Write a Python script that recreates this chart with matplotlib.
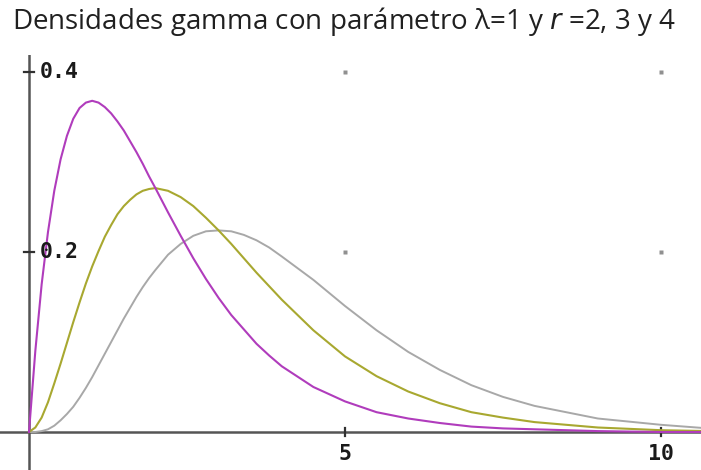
import matplotlib

matplotlib.use("Agg")
import matplotlib.pyplot as plt

# values
x_vals = [0, 0.1, 0.2, 0.3, 0.4, 0.5, 0.6, 0.7, 0.8, 0.9, 1.0,
          1.1, 1.2, 1.3, 1.4, 1.5, 1.6, 1.7, 1.8, 1.9, 2.0,
          2.2, 2.4, 2.6, 2.8, 3.0, 3.2, 3.4, 3.6, 3.8, 4.0,
          4.5, 5.0, 5.5, 6.0, 6.5, 7.0, 7.5, 8.0, 9, 10, 10.75]
dens_r2 = [0, 0.090, 0.164, 0.222, 0.268, 0.303, 0.329, 0.348, 0.360, 0.366, 0.368,
           0.366, 0.361, 0.354, 0.345, 0.335, 0.323, 0.311, 0.298, 0.284, 0.271,
           0.244, 0.218, 0.193, 0.170, 0.149, 0.130, 0.114, 0.098, 0.085, 0.073,
           0.050, 0.034, 0.022, 0.015, 0.010, 0.006, 0.004, 0.003, 0.001, 0.000, 0.000]
dens_r3 = [0, 0.005, 0.016, 0.033, 0.054, 0.076, 0.099, 0.122, 0.144, 0.165, 0.184,
           0.201, 0.217, 0.230, 0.242, 0.251, 0.258, 0.264, 0.268, 0.270, 0.271,
           0.268, 0.261, 0.251, 0.238, 0.224, 0.209, 0.193, 0.177, 0.162, 0.147,
           0.113, 0.084, 0.062, 0.045, 0.032, 0.022, 0.016, 0.011, 0.005, 0.002, 0.001]
dens_r4 = [0, 0.000, 0.001, 0.003, 0.007, 0.013, 0.020, 0.028, 0.038, 0.049, 0.061,
           0.074, 0.087, 0.100, 0.113, 0.126, 0.138, 0.150, 0.161, 0.171, 0.180,
           0.197, 0.209, 0.218, 0.223, 0.224, 0.223, 0.219, 0.213, 0.205, 0.195,
           0.169, 0.140, 0.113, 0.089, 0.069, 0.052, 0.039, 0.029, 0.015, 0.008, 0.004]

x_ticks = [5, 10]
y_ticks = [0.2, 0.4]
title = "Densidades gamma con parámetro λ=1 y $r$ =2, 3 y 4"

W, H = 701, 470
fig = plt.figure(figsize=(W / 100, H / 100), dpi=100)
fig.patch.set_facecolor("white")

# axes area: from pixel row 55 down to the bottom, full width
ax = fig.add_axes([0, 0, 1, (H - 55) / H])
px_per_x = 63.2
px_per_y = 900.0
x0_px, y0_px = 29, 432
ax.set_xlim(-x0_px / px_per_x, (W - x0_px) / px_per_x)
ax.set_ylim(-(H - y0_px) / px_per_y, (y0_px - 55) / px_per_y)
for s in ax.spines.values():
    s.set_visible(False)
ax.set_xticks([])
ax.set_yticks([])

# axis lines
ax.axhline(0, color="#555555", lw=1.8, zorder=1)
ax.axvline(0, color="#555555", lw=1.8, zorder=1)

# grid dots
for gx in x_ticks:
    for gy in y_ticks:
        ax.plot(gx, gy, "s", ms=2.2, color="#909090", mec="none")

tick_font = dict(fontsize=15.5, family="DejaVu Sans Mono", weight="bold",
                 color="#1a1a1a")
for t in x_ticks:
    ax.plot([t, t], [-0.0045, 0.0045], color="#303030", lw=1.6)
    ax.text(t, -0.013, str(t), ha="center", va="top", **tick_font)
for t in y_ticks:
    ax.plot([-0.08, 0.08], [t, t], color="#303030", lw=1.6)
    ax.text(0.17, t, f"{t:.1f}", ha="left", va="center", **tick_font)

ax.plot(x_vals, dens_r4, color="#a8a8a8", lw=1.4)
ax.plot(x_vals, dens_r3, color="#a8a830", lw=1.5)
ax.plot(x_vals, dens_r2, color="#b03cbc", lw=1.5)

fig.text(12 / W, 1 - 29 / H, title, ha="left", va="baseline", fontsize=20,
         family=["Open Sans", "DejaVu Sans"], color="#202020")

fig.savefig("out.png", dpi=100)
plt.close(fig)
